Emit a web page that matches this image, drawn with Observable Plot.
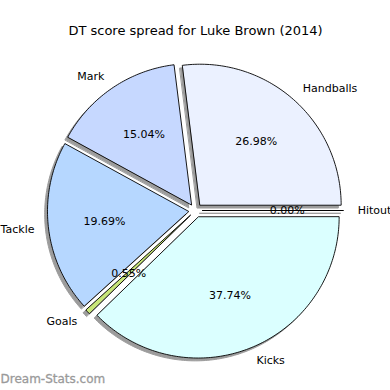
<!DOCTYPE html>
<html>
<head>
<meta charset="utf-8">
<script src="https://cdn.jsdelivr.net/npm/d3@7"></script>
<script src="https://cdn.jsdelivr.net/npm/@observablehq/plot@0.6"></script>
<style>
  html, body { margin: 0; padding: 0; background: #fff; }
  #chart svg { display: block; }
</style>
</head>
<body>
<div id="chart"></div>
<script>
const title = "DT score spread for Luke Brown (2014)";
const watermark = "Dream-Stats.com";
const categories = ["Handballs", "Mark", "Tackle", "Goals", "Kicks", "Hitout"];
const percents = [26.98, 15.04, 19.69, 0.55, 37.74, 0.00];
const colors = ["#ebf1ff", "#c6d8ff", "#b6d7ff", "#c8e678", "#dbffff", "#f0f0f0"];

const W = 390, H = 390, CX = 195, CY = 210, R = 141;
const explode = 0.05, shadowOff = 0.02;

// build slice geometry (unit radius, y up) from the data
const slices = [];
let start = 0;
categories.forEach((name, i) => {
  const sweep = percents[i] / 100 * 2 * Math.PI;
  const mid = start + sweep / 2;
  const ox = explode * Math.cos(mid), oy = explode * Math.sin(mid);
  const n = Math.max(1, Math.ceil(sweep / (Math.PI / 180)));
  const pts = [{name, x: ox, y: oy, color: colors[i]}];
  for (let k = 0; k <= n; k++) {
    const t = start + sweep * k / n;
    pts.push({name, x: ox + Math.cos(t), y: oy + Math.sin(t), color: colors[i]});
  }
  slices.push({name, pct: percents[i], mid, ox, oy, pts, color: colors[i]});
  start += sweep;
});
const wedgePts = slices.flatMap(s => s.pts);
const shadowPts = wedgePts.map(p => ({...p, x: p.x - shadowOff, y: p.y - shadowOff}));
const labels = slices.map(s => ({
  name: s.name,
  x: s.ox + 1.1 * Math.cos(s.mid),
  y: s.oy + 1.1 * Math.sin(s.mid),
  right: Math.cos(s.mid) >= 0
}));
const pctLabels = slices.map(s => ({
  text: s.pct.toFixed(2) + "%",
  x: s.ox + 0.6 * Math.cos(s.mid),
  y: s.oy + 0.6 * Math.sin(s.mid)
}));

const chart = Plot.plot({
  width: W, height: H,
  margin: 0,
  x: {domain: [-CX / R, (W - CX) / R], axis: null},
  y: {domain: [(CY - H) / R, CY / R], axis: null},
  color: {type: "identity"},
  style: {fontFamily: "'DejaVu Sans', sans-serif", background: "#fff"},
  marks: [
    Plot.line(shadowPts, {x: "x", y: "y", z: "name", curve: "linear-closed",
      fill: "#9c9c9c", stroke: "#9c9c9c", strokeWidth: 1}),
    Plot.line(wedgePts, {x: "x", y: "y", z: "name", curve: "linear-closed",
      fill: "color", stroke: "#000", strokeWidth: 0.9, strokeLinejoin: "miter"}),
    Plot.text(labels.filter(d => d.right), {x: "x", y: "y", text: "name",
      textAnchor: "start", fontSize: 11, fill: "#000"}),
    Plot.text(labels.filter(d => !d.right), {x: "x", y: "y", text: "name",
      textAnchor: "end", fontSize: 11, fill: "#000"}),
    Plot.text(pctLabels, {x: "x", y: "y", text: "text", fontSize: 11, fill: "#000"}),
    Plot.text([title], {frameAnchor: "top", dy: 25, fontSize: 13, fill: "#000"}),
    Plot.text([watermark], {frameAnchor: "bottom-left", dx: 0, dy: -8, textAnchor: "start",
      fontSize: 12, fontWeight: "normal", fill: "#9a9a9a", stroke: "#9a9a9a", strokeWidth: 0.3})
  ]
});
document.getElementById("chart").appendChild(chart);
</script>
</body>
</html>
